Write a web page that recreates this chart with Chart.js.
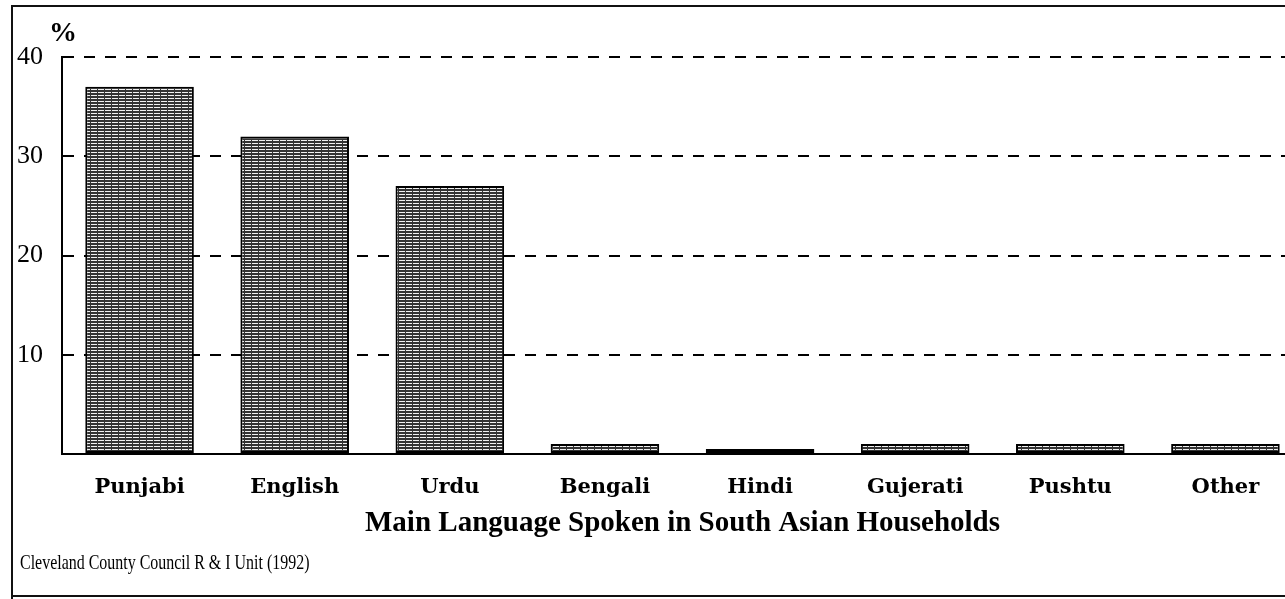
<!DOCTYPE html>
<html>
<head>
<meta charset="utf-8">
<script src="https://cdn.jsdelivr.net/npm/chart.js@4.4.1/dist/chart.umd.min.js"></script>
<style>
  html, body { margin: 0; padding: 0; background: #fff; overflow: hidden; }
  #wrap { position: relative; width: 1305px; height: 599px; }
</style>
</head>
<body>
<div id="wrap"><canvas id="myChart_lang"></canvas></div>
<script>
// data
const languages = ['Punjabi', 'English', 'Urdu', 'Bengali', 'Hindi', 'Gujerati', 'Pushtu', 'Other'];
const percentValues = [37, 32, 27, 1, 0.5, 1, 1, 1];
const yTicks = [10, 20, 30, 40];
const chartTitle = 'Main Language Spoken in South Asian Households';
const sourceNote = 'Cleveland County Council R & I Unit (1992)';

// striped fill like the old print hatch
function makeHatch() {
  const c = document.createElement('canvas');
  c.width = 7; c.height = 3;
  const g = c.getContext('2d');
  g.fillStyle = '#333';
  g.fillRect(0, 0, 7, 3);
  g.fillStyle = '#f0f0f0';
  g.fillRect(0, 2, 6, 1);
  return g.createPattern(c, 'repeat');
}

const ctx_lang = document.getElementById('myChart_lang').getContext('2d');

const framePlugin = {
  id: 'frame',
  afterDraw(chart) {
    const c = chart.ctx;
    c.save();
    c.strokeStyle = '#111';
    c.lineWidth = 2;
    c.beginPath();
    c.moveTo(12, 599);
    c.lineTo(12, 6);
    c.lineTo(1285, 6);
    c.moveTo(12, 596);
    c.lineTo(1285, 596);
    c.stroke();
    // percent sign
    c.fillStyle = '#000';
    c.font = 'bold 28px "Liberation Serif"';
    c.textBaseline = 'alphabetic';
    c.fillText('%', 49, 41);
    // source note, condensed
    c.translate(20, 569);
    c.scale(0.76, 1);
    c.font = '21px "Liberation Serif"';
    c.fillText(sourceNote, 0, 0);
    c.restore();
  }
};

const data_lang = {
  labels: languages,
  datasets: [{
    label: '%',
    data: percentValues,
    backgroundColor: makeHatch(),
    borderColor: '#000',
    borderWidth: 2,
    borderSkipped: false,
    categoryPercentage: 1,
    barPercentage: 0.7
  }]
};

const config_lang = {
  type: 'bar',
  data: data_lang,
  options: {
    responsive: false,
    animation: false,
    layout: { padding: { left: 12, top: 57, right: 2, bottom: 0 } },
    scales: {
      x: {
        grid: { display: false, drawTicks: false },
        border: { display: true, color: '#000', width: 2 },
        ticks: {
          color: '#000',
          padding: 21,
          font: { family: '"DejaVu Serif"', size: 21, weight: '600' }
        },
        title: {
          display: true,
          text: chartTitle,
          color: '#000',
          font: { family: '"Liberation Serif"', size: 29, weight: 'bold' },
          padding: { top: 0, bottom: 58 }
        },
        afterFit: s => { s.height = 145; }
      },
      y: {
        min: 0,
        max: 40,
        afterBuildTicks: s => { s.ticks = [0].concat(yTicks).map(v => ({ value: v })); },
        grid: {
          color: ctx => ctx.tick && ctx.tick.value === 0 ? 'rgba(0,0,0,0)' : '#000',
          lineWidth: 2,
          drawTicks: false
        },
        border: { display: true, color: '#000', width: 2, dash: [11, 10] },
        ticks: {
          color: '#000',
          padding: 19,
          font: { family: '"Liberation Serif"', size: 26 },
          callback: v => (v === 0 ? '' : v)
        },
        afterFit: s => { s.width = 50; }
      }
    },
    plugins: {
      legend: { display: false },
      tooltip: { enabled: false }
    }
  },
  plugins: [framePlugin]
};

const canvasEl = document.getElementById('myChart_lang');
canvasEl.width = 1305;
canvasEl.height = 599;
const myChart = new Chart(ctx_lang, config_lang);
</script>
</body>
</html>
